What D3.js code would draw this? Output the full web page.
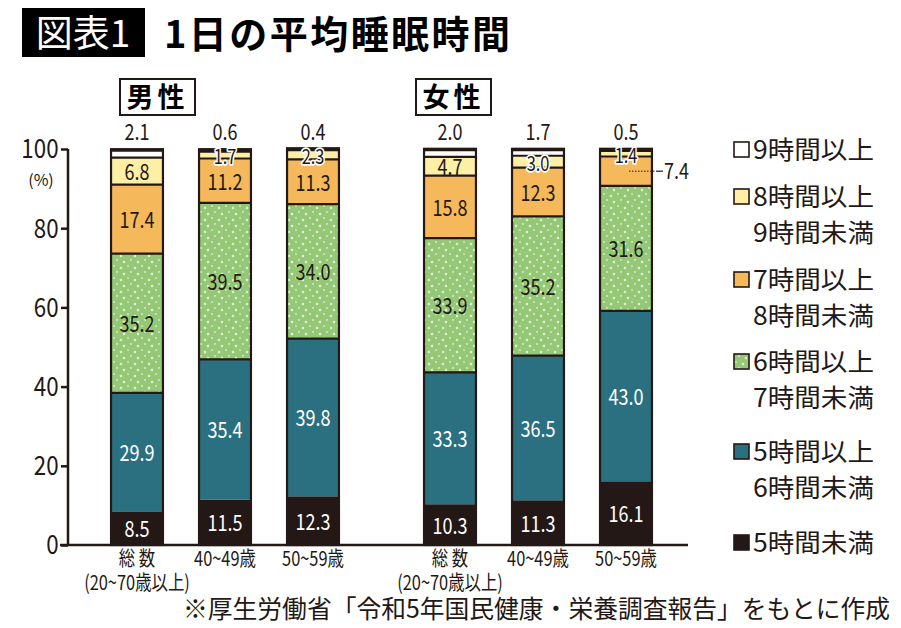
<!DOCTYPE html>
<html><head><meta charset="utf-8">
<script src="https://cdn.jsdelivr.net/npm/d3@7"></script>
<style>
body{margin:0;background:#fff;}
svg text{font-family:"Noto Sans CJK JP","Noto Sans",sans-serif;}
</style></head>
<body><svg id="c" width="901" height="628"></svg>
<script>
// ---- data ----
const groups = ["男性", "女性"];
const ages = ["総数", "40~49歳", "50~59歳"];
const ageLabels = [["総 数", "(20~70歳以上)"], ["40~49歳"], ["50~59歳"]];
const keys = ["5時間未満", "5時間以上6時間未満", "6時間以上7時間未満", "7時間以上8時間未満", "8時間以上9時間未満", "9時間以上"];
const legendLines = [["9時間以上"], ["8時間以上", "9時間未満"], ["7時間以上", "8時間未満"], ["6時間以上", "7時間未満"], ["5時間以上", "6時間未満"], ["5時間未満"]];
// values per bar: 男性 総数, 40~49, 50~59, 女性 総数, 40~49, 50~59
const under5   = [8.5, 11.5, 12.3, 10.3, 11.3, 16.1];
const h5to6    = [29.9, 35.4, 39.8, 33.3, 36.5, 43.0];
const h6to7    = [35.2, 39.5, 34.0, 33.9, 35.2, 31.6];
const h7to8    = [17.4, 11.2, 11.3, 15.8, 12.3, 7.4];
const h8to9    = [6.8, 1.7, 2.3, 4.7, 3.0, 1.4];
const over9    = [2.1, 0.6, 0.4, 2.0, 1.7, 0.5];
const yTicks = [0, 20, 40, 60, 80, 100];
const colors = ["#231815", "#2b7080", "url(#dots)", "#f5b95b", "#fdf0a6", "#ffffff"];
const textColors = ["#fff", "#fff", "#231815", "#231815", "#231815", "#231815"];

const series = [under5, h5to6, h6to7, h7to8, h8to9, over9];
const rows = [];
groups.forEach((g, gi) => ages.forEach((a, ai) => {
  const i = gi * 3 + ai;
  const r = {group: g, age: a, idx: i};
  keys.forEach((k, ki) => r[k] = series[ki][i]);
  rows.push(r);
}));

const svg = d3.select("#c");
const defs = svg.append("defs");
const pat = defs.append("pattern").attr("id", "dots").attr("patternUnits", "userSpaceOnUse")
  .attr("width", 14).attr("height", 12);
pat.append("rect").attr("width", 14).attr("height", 12).attr("fill", "#94c876");
[[2,2],[9,4],[5,8],[12,10]].forEach(([px,py], j) => {
  pat.append("path").attr("d", j % 2 ? `M${px-1.2},${py}h2.4M${px},${py-1.2}v2.4` : `M${px-1},${py}h2`)
    .attr("stroke", "#fff").attr("stroke-width", 1.1).attr("opacity", 0.9);
});

const ink = "#231815";
const y = d3.scaleLinear().domain([0, 100]).range([545, 149]);
const x0 = d3.scaleBand().domain(groups).range([93, 670]).paddingInner(0.1566);
const x1 = d3.scaleBand().domain(ages).range([0, x0.bandwidth()]).paddingInner(0.41).paddingOuter(0.205);
const bx = d => x0(d.group) + x1(d.age);
const bw = x1.bandwidth();

// ---- title ----
svg.append("rect").attr("x", 22).attr("y", 8).attr("width", 123).attr("height", 49).attr("fill", "#000");
svg.append("text").attr("x", 83).attr("y", 47).attr("text-anchor", "middle").attr("fill", "#fff")
  .attr("font-size", 37).text("図表1");
svg.append("text").attr("x", 164).attr("y", 48).attr("fill", "#000").attr("font-weight", "bold")
  .attr("font-size", 38).attr("textLength", 346).attr("lengthAdjust", "spacing").text("1日の平均睡眠時間");

// group headers
const hdr = [{g: "男性", x: 120}, {g: "女性", x: 416}];
hdr.forEach(h => {
  svg.append("rect").attr("x", h.x).attr("y", 79).attr("width", 75).attr("height", 36)
    .attr("fill", "none").attr("stroke", ink).attr("stroke-width", 2);
  svg.append("text").attr("x", h.x + 37.5).attr("y", 107).attr("text-anchor", "middle")
    .attr("font-size", 27).attr("font-weight", "bold").attr("letter-spacing", 4).text(h.g);
});

// ---- stacked bars ----
const stack = d3.stack().keys(keys)(rows);
const layer = svg.append("g").selectAll("g").data(stack).join("g")
  .attr("fill", (d, i) => colors[i]);
layer.selectAll("rect").data(d => d).join("rect")
  .attr("x", d => bx(d.data)).attr("width", bw)
  .attr("y", d => y(d[1])).attr("height", d => y(d[0]) - y(d[1]));

// separators between segments (above teal)
stack.forEach((s, si) => {
  if (si < 2) return;
  svg.append("g").selectAll("line").data(s).join("line")
    .attr("x1", d => bx(d.data)).attr("x2", d => bx(d.data) + bw)
    .attr("y1", d => y(d[0])).attr("y2", d => y(d[0]))
    .attr("stroke", ink).attr("stroke-width", 2.2);
});
// outlines
const tot = d => d3.sum(keys, k => d[k]);
svg.append("g").selectAll("rect").data(rows).join("rect")
  .attr("x", d => bx(d)).attr("width", bw)
  .attr("y", d => y(tot(d))).attr("height", d => y(0) - y(tot(d)))
  .attr("fill", "none").attr("stroke", ink).attr("stroke-width", 2.2);
svg.append("g").selectAll("line").data(rows).join("line")
  .attr("x1", d => bx(d) - 1).attr("x2", d => bx(d) + bw + 1)
  .attr("y1", d => y(tot(d)) + 0.5).attr("y2", d => y(tot(d)) + 0.5)
  .attr("stroke", ink).attr("stroke-width", 3.5);

// ---- value labels ----
const lab = svg.append("g");
const cond = 0.82;
function numText(g, xx, yy, str, fill, halo, fs) {
  const t = g.append("text").attr("transform", `translate(${xx},${yy}) scale(${cond},1)`)
    .attr("text-anchor", "middle").attr("dy", "0.36em").attr("font-size", fs || 22).attr("fill", fill).text(str);
  if (halo) t.attr("stroke", "#fff").attr("stroke-width", 3.5).attr("paint-order", "stroke").attr("stroke-linejoin", "round");
  return t;
}
stack.forEach((s, si) => {
  s.forEach(d => {
    const v = d.data[keys[si]];
    const cx = bx(d.data) + bw / 2;
    const mid = (y(d[0]) + y(d[1])) / 2;
    if (si === 5) {
      numText(lab, cx, y(d[1]) - 17, v.toFixed(1), ink, false);
    } else if (si === 4 && v < 3.5) {
      numText(lab, cx, mid + 2, v.toFixed(1), ink, true, 20);
    } else if (si === 3 && v < 8) {
      const xr = bx(d.data) + bw;
      lab.append("line").attr("x1", cx + 3).attr("x2", xr + 4).attr("y1", mid).attr("y2", mid)
        .attr("stroke", ink).attr("stroke-width", 1).attr("stroke-dasharray", "1.5,1.5");
      lab.append("line").attr("x1", xr + 4).attr("x2", xr + 11).attr("y1", mid).attr("y2", mid)
        .attr("stroke", ink).attr("stroke-width", 1.2);
      lab.append("text").attr("transform", `translate(${xr + 12},${mid}) scale(${cond},1)`)
        .attr("dy", "0.36em").attr("font-size", 22).attr("fill", ink).text(v.toFixed(1));
    } else {
      numText(lab, cx, mid + 1, v.toFixed(1), textColors[si], false);
    }
  });
});

// ---- axes ----
const yAxis = svg.append("g").attr("transform", "translate(68,0)")
  .call(d3.axisLeft(y).tickValues(yTicks).tickSize(7).tickPadding(4));
yAxis.select(".domain").attr("stroke", ink).attr("stroke-width", 2.5).attr("d", `M0,${y(100)}V${y(0)}`);
yAxis.selectAll(".tick line").attr("stroke", ink).attr("stroke-width", 2.5);
yAxis.selectAll(".tick text").attr("font-size", 26).attr("fill", ink)
  .attr("font-family", "'Noto Sans CJK JP',sans-serif").attr("transform", "scale(0.86,1)").attr("dy", "0.34em");
svg.append("text").attr("x", 41).attr("y", 186).attr("text-anchor", "middle").attr("font-size", 16)
  .attr("fill", ink).text("(%)");
svg.append("line").attr("x1", 60).attr("x2", 688).attr("y1", y(0)).attr("y2", y(0))
  .attr("stroke", ink).attr("stroke-width", 2.5);

// x labels
const xl = svg.append("g");
rows.forEach(d => {
  const lines = ageLabels[ages.indexOf(d.age)];
  lines.forEach((ln, li) => {
    xl.append("text").attr("transform", `translate(${bx(d) + bw / 2},${566 + li * 24}) scale(0.8,1)`)
      .attr("text-anchor", "middle").attr("font-size", 20.5).attr("fill", ink).text(ln);
  });
});

// ---- legend ----
const lg = svg.append("g").attr("transform", "translate(734,0)");
const legendY = [150, 215, 298, 380, 470, 543];
keys.slice().reverse().forEach((k, i) => {
  const ki = keys.length - 1 - i;
  const lines = legendLines[i];
  const top = legendY[i] - (lines.length - 1) * 18;
  lg.append("rect").attr("x", 0).attr("y", top - 8).attr("width", 15).attr("height", 15)
    .attr("fill", colors[ki]).attr("stroke", ink).attr("stroke-width", 1.6);
  lines.forEach((ln, li) => {
    lg.append("text").attr("x", 19).attr("y", top + li * 36).attr("dy", "0.36em")
      .attr("font-size", 25).attr("textLength", 121).attr("lengthAdjust", "spacingAndGlyphs")
      .attr("fill", ink).text(ln);
  });
});

// footer
svg.append("text").attr("x", 183).attr("y", 618).attr("font-size", 25)
  .attr("textLength", 707).attr("lengthAdjust", "spacingAndGlyphs")
  .attr("fill", ink).text("※厚生労働省「令和5年国民健康・栄養調査報告」をもとに作成");
</script></body></html>
